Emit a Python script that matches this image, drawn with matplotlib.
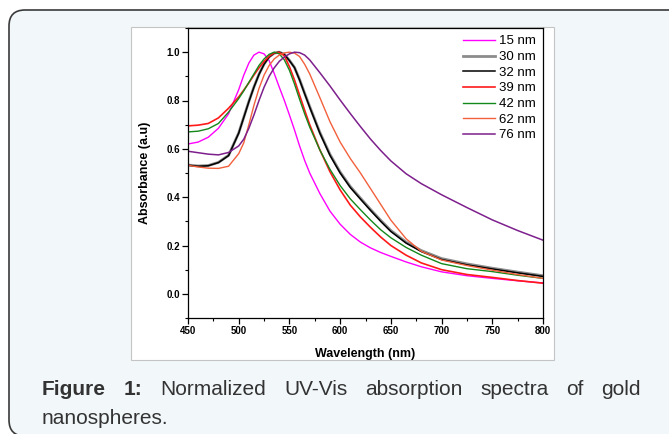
import numpy as np
import matplotlib
matplotlib.use('Agg')
import matplotlib.pyplot as plt
from matplotlib.patches import FancyBboxPatch, Rectangle
from matplotlib.ticker import MultipleLocator

# wavelength grid (nm)
wl = [450, 460, 470, 480, 490, 500, 505, 510, 515, 520, 525, 530, 535, 540,
      545, 550, 555, 560, 565, 570, 580, 590, 600, 610, 620, 630, 640, 650,
      665, 680, 700, 725, 750, 775, 800]

labels = ['15 nm', '30 nm', '32 nm', '39 nm', '42 nm', '62 nm', '76 nm']
colors = ['#ff00ff', '#8c8c8c', '#000000', '#ff1a1a', '#14871a', '#f2603c', '#7d1f8c']

a15 = [0.620, 0.628, 0.648, 0.685, 0.745, 0.845, 0.905, 0.955, 0.988, 1.000,
       0.993, 0.965, 0.912, 0.855, 0.800, 0.740, 0.678, 0.612, 0.552, 0.500,
       0.415, 0.342, 0.288, 0.246, 0.214, 0.190, 0.171, 0.155, 0.132, 0.112,
       0.091, 0.075, 0.064, 0.054, 0.045]
a30 = [0.533, 0.529, 0.531, 0.544, 0.573, 0.666, 0.731, 0.796, 0.856, 0.909,
       0.951, 0.981, 0.996, 1.000, 0.991, 0.966, 0.937, 0.887, 0.830, 0.775,
       0.668, 0.577, 0.504, 0.444, 0.396, 0.349, 0.304, 0.262, 0.214, 0.179,
       0.146, 0.124, 0.106, 0.090, 0.075]
a32 = [0.532, 0.528, 0.530, 0.543, 0.572, 0.665, 0.730, 0.795, 0.855, 0.908,
       0.950, 0.980, 0.996, 1.000, 0.990, 0.965, 0.936, 0.885, 0.828, 0.772,
       0.665, 0.573, 0.500, 0.440, 0.392, 0.345, 0.300, 0.258, 0.210, 0.175,
       0.142, 0.120, 0.103, 0.087, 0.072]
a39 = [0.695, 0.698, 0.705, 0.728, 0.768, 0.815, 0.843, 0.873, 0.905, 0.935,
       0.962, 0.983, 0.997, 0.999, 0.985, 0.940, 0.885, 0.822, 0.760, 0.700,
       0.596, 0.505, 0.430, 0.367, 0.318, 0.275, 0.235, 0.200, 0.160, 0.128,
       0.100, 0.080, 0.068, 0.055, 0.044]
a42 = [0.670, 0.673, 0.683, 0.705, 0.752, 0.808, 0.840, 0.875, 0.910, 0.945,
       0.972, 0.991, 1.000, 0.993, 0.968, 0.925, 0.868, 0.805, 0.745, 0.690,
       0.595, 0.515, 0.448, 0.393, 0.348, 0.305, 0.265, 0.232, 0.192, 0.160,
       0.125, 0.104, 0.092, 0.077, 0.064]
a62 = [0.532, 0.525, 0.520, 0.519, 0.528, 0.580, 0.625, 0.700, 0.780, 0.850,
       0.905, 0.945, 0.972, 0.988, 0.997, 1.000, 0.996, 0.982, 0.950, 0.910,
       0.812, 0.712, 0.628, 0.560, 0.500, 0.435, 0.370, 0.305, 0.228, 0.176,
       0.140, 0.117, 0.098, 0.080, 0.064]
a76 = [0.590, 0.584, 0.578, 0.575, 0.585, 0.612, 0.640, 0.685, 0.740, 0.800,
       0.855, 0.900, 0.935, 0.962, 0.980, 0.993, 1.000, 0.998, 0.988, 0.968,
       0.915, 0.860, 0.802, 0.746, 0.692, 0.640, 0.593, 0.550, 0.497, 0.456,
       0.410, 0.357, 0.306, 0.262, 0.222]
series = [a15, a30, a32, a39, a42, a62, a76]
widths = [1.0, 2.0, 1.1, 1.2, 1.0, 1.0, 1.1]

caption_bold = ['Figure', '1:']
caption_words = ['Normalized', 'UV-Vis', 'absorption', 'spectra', 'of', 'gold']
caption_line2 = 'nanospheres.'

W, H = 669, 434
fig = plt.figure(figsize=(W / 100, H / 100), dpi=100)
fig.patch.set_facecolor('white')

# page box and white picture frame (inches)
box = FancyBboxPatch((0.09, -0.02), 7.2, 4.26,
                     boxstyle='round,pad=0,rounding_size=0.16',
                     transform=fig.dpi_scale_trans, facecolor='#f2f7fa',
                     edgecolor='#3a3a3a', linewidth=1.2, zorder=-3)
fig.patches.append(box)
frame = Rectangle((1.31, 0.74), 4.23, 3.33, transform=fig.dpi_scale_trans,
                  facecolor='white', edgecolor='#c4c4c4', linewidth=0.8, zorder=-2)
fig.patches.append(frame)

ax = fig.add_axes([188 / W, 1 - 318 / H, 355 / W, 290 / H])
ax.set_facecolor('white')
for y, lab, c, lw in zip(series, labels, colors, widths):
    ax.plot(wl, y, color=c, lw=lw, label=lab)

ax.set_xlim(450, 800)
ax.set_ylim(-0.1, 1.1)
ax.xaxis.set_major_locator(MultipleLocator(50))
ax.xaxis.set_minor_locator(MultipleLocator(25))
ax.yaxis.set_major_locator(MultipleLocator(0.2))
ax.yaxis.set_minor_locator(MultipleLocator(0.1))
ax.yaxis.set_major_formatter(matplotlib.ticker.FormatStrFormatter('%.1f'))
ax.tick_params(which='major', direction='out', length=4, width=0.9, pad=1.5,
               labelsize=7)
ax.tick_params(which='minor', direction='out', length=2.5, width=0.8)
for t in ax.get_xticklabels() + ax.get_yticklabels():
    t.set_fontweight('bold')
    t.set_family('Liberation Sans')
for s in ax.spines.values():
    s.set_linewidth(0.9)

ax.set_xlabel('Wavelength (nm)', fontsize=9, fontweight='bold',
              family='Liberation Sans', labelpad=9)
ax.set_ylabel('Absorbance (a.u)', fontsize=9, fontweight='bold',
              family='Liberation Sans', labelpad=11)

leg = ax.legend(loc='upper right', frameon=False, prop={'family': 'Liberation Sans', 'size': 9.5},
                handlelength=2.4, handletextpad=0.3, labelspacing=0.26,
                borderpad=0.55, borderaxespad=0.0)

# caption, justified on the first line
fs = 15
base1 = 1 - 395 / H
x0, x1 = 42 / W, 641 / W
words = [(w, 'bold') for w in caption_bold] + [(w, 'normal') for w in caption_words]
texts = [fig.text(x0, base1, w, fontsize=fs, fontweight=fw, family='Liberation Sans',
                  color='#333333', va='baseline') for w, fw in words]
r = fig.canvas.get_renderer()
ws = [t.get_window_extent(r).width / W for t in texts]
gap = (x1 - x0 - sum(ws)) / (len(texts) - 1)
pos = x0
for t, w in zip(texts, ws):
    t.set_x(pos)
    pos += w + gap
fig.text(x0, 1 - 424 / H, caption_line2, fontsize=fs, family='Liberation Sans',
         color='#333333', va='baseline')

fig.savefig('out.png', dpi=100)
